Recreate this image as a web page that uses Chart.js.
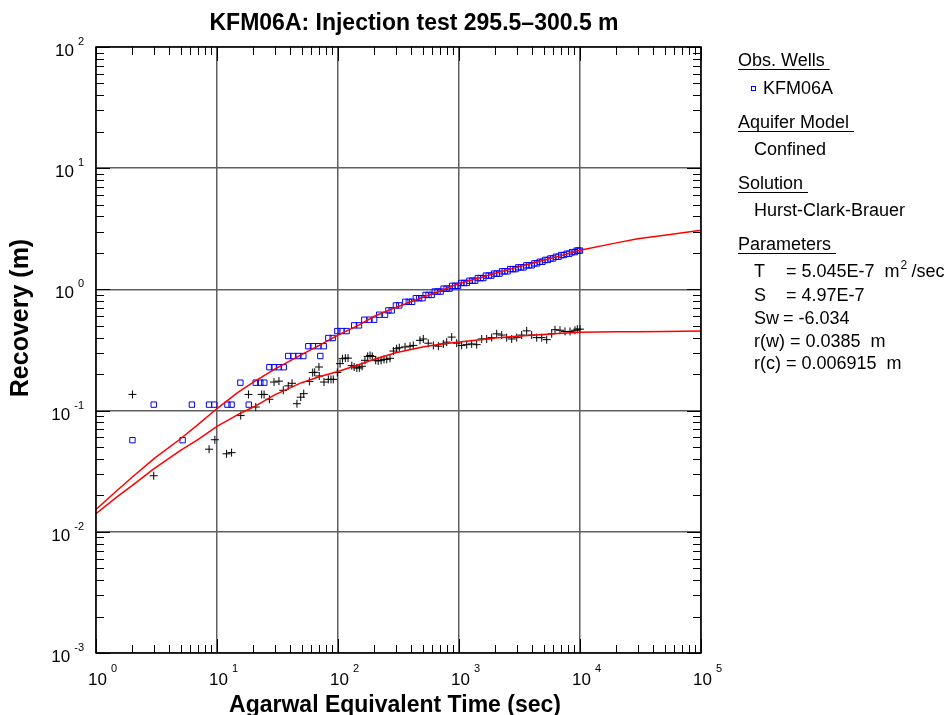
<!DOCTYPE html>
<html>
<head>
<meta charset="utf-8">
<script src="https://cdn.jsdelivr.net/npm/chart.js@4.4.0/dist/chart.umd.min.js"></script>
<style>
  html, body { margin: 0; padding: 0; background: #fff; }
  #wrap { width: 950px; height: 715px; }
</style>
</head>
<body>
<div id="wrap"><canvas id="grapRecovery" width="950" height="715"></canvas></div>
<script>
// axis decades and their exponent labels
var xDecades = [1, 10, 100, 1000, 10000, 100000];
var xExponents = ['0', '1', '2', '3', '4', '5'];
var yDecades = [0.001, 0.01, 0.1, 1, 10, 100];
var yExponents = ['-3', '-2', '-1', '0', '1', '2'];

// observation well KFM06A (blue squares)
var blueTime = [2, 3, 5.2, 6.2, 8.6, 9.5, 12.2, 13.2, 15.6, 18.3, 20.9, 22.8, 24.6,
  27.1, 29.6, 32.5, 35.6, 38.8, 42.7, 47, 51.7, 56.9, 62.1, 68.7, 71.4, 76.2, 83.2, 90.4,
  98.7, 107, 118, 136, 149, 165, 182, 199, 219, 245, 261, 278, 301, 321,
  360, 385, 410, 440, 468, 500, 530, 560, 595, 630, 665, 705, 745, 790, 835,
  880, 930, 980, 1040, 1100, 1160, 1220, 1290, 1360, 1430, 1510, 1590,
  1670, 1760, 1850, 1950, 2050, 2160, 2270, 2390, 2520, 2650, 2790, 2940,
  3090, 3250, 3420, 3600, 3790, 3990, 4200, 4420, 4650, 4890, 5150, 5420,
  5700, 6000, 6320, 6650, 7000, 7370, 7760, 8170, 8600, 9050, 9400, 9700, 10000];
var blueRecovery = [0.057, 0.112, 0.057, 0.112, 0.112, 0.112, 0.112, 0.112, 0.17, 0.112, 0.17, 0.17, 0.17,
  0.228, 0.228, 0.228, 0.228, 0.282, 0.282, 0.282, 0.282, 0.34, 0.34, 0.34, 0.282, 0.34, 0.397, 0.397,
  0.453, 0.453, 0.453, 0.505, 0.505, 0.562, 0.562, 0.562, 0.618, 0.618, 0.671, 0.671, 0.738, 0.738,
  0.79, 0.79, 0.79, 0.846, 0.846, 0.846, 0.90, 0.90, 0.90, 0.96, 0.96, 0.96, 1.015, 1.015, 1.015,
  1.07, 1.07, 1.07, 1.13, 1.13, 1.13, 1.18, 1.18, 1.18, 1.24, 1.24, 1.24,
  1.30, 1.30, 1.30, 1.35, 1.35, 1.35, 1.41, 1.41, 1.41, 1.47, 1.47, 1.47,
  1.52, 1.52, 1.52, 1.58, 1.58, 1.58, 1.64, 1.64, 1.69, 1.69, 1.75, 1.75,
  1.80, 1.80, 1.86, 1.86, 1.92, 1.92, 1.97, 1.97, 2.03, 2.03, 2.09, 2.09, 2.09];

// second recovery record (black crosses)
var blackTime = [2, 3, 8.6, 9.6, 12, 13.2, 15.7, 18.2, 20.9, 23.4, 24.5, 27.1, 29.6, 32.5,
  35.3, 38.8, 41.7, 45.8, 49.2, 52.1, 58, 61.8, 64.2, 69.6, 70, 76.6, 83.2, 87.5, 91.4,
  98.7, 104, 109, 115, 121, 130, 136, 143, 150, 158, 167, 176, 184, 192, 205, 215, 227,
  240, 253, 269, 287, 305, 321, 358, 394, 419, 476, 507, 557, 614, 675, 742, 791, 870,
  957, 1052, 1158, 1273, 1400, 1541, 1694, 1863, 2050, 2254, 2478, 2727, 2999, 3297,
  3627, 3988, 4386, 4826, 5308, 5837, 6213, 6834, 7515, 8265, 9089, 9500, 10000];
var blackRecovery = [0.136, 0.029, 0.048, 0.0575, 0.044, 0.045, 0.091, 0.136, 0.107, 0.136, 0.136, 0.124, 0.172, 0.175,
  0.147, 0.160, 0.168, 0.114, 0.129, 0.138, 0.174, 0.206, 0.207, 0.229, 0.193, 0.172, 0.181, 0.181, 0.181,
  0.206, 0.244, 0.268, 0.271, 0.271, 0.235, 0.229, 0.225, 0.225, 0.232, 0.26, 0.28, 0.285, 0.28, 0.26, 0.257, 0.26,
  0.265, 0.265, 0.27, 0.31, 0.324, 0.33, 0.335, 0.34, 0.345, 0.38, 0.39, 0.36, 0.345, 0.34, 0.355, 0.367, 0.404,
  0.36, 0.345, 0.35, 0.355, 0.35, 0.39, 0.39, 0.40, 0.43, 0.42, 0.40, 0.39, 0.40, 0.42,
  0.455, 0.42, 0.40, 0.40, 0.385, 0.43, 0.465, 0.46, 0.45, 0.45, 0.46, 0.47, 0.47];

// Hurst-Clark-Brauer type curves (red)
var fitTime = [1, 1.5, 2, 3, 5, 7, 10, 15, 20, 30, 50, 70, 100, 150, 200, 300, 500, 700,
  1000, 1500, 2000, 3000, 5000, 7000, 10000, 20000, 30000, 50000, 100000];
var fitUpper = [0.0153, 0.022, 0.0283, 0.040, 0.0586, 0.077, 0.104, 0.142, 0.172, 0.22, 0.29, 0.345,
  0.42, 0.51, 0.60, 0.71, 0.86, 0.97, 1.12, 1.25, 1.36, 1.52, 1.74, 1.90, 2.10, 2.42, 2.62, 2.80, 3.07];
var fitLower = [0.0141, 0.0195, 0.0242, 0.033, 0.047, 0.058, 0.074, 0.093, 0.107, 0.135, 0.17, 0.19,
  0.21, 0.24, 0.265, 0.30, 0.335, 0.352, 0.368, 0.385, 0.397, 0.41, 0.425, 0.435, 0.444, 0.447, 0.448, 0.45, 0.453];

var FONT = '"Liberation Sans", Arial, sans-serif';

function pairs(xs, ys) {
  return xs.map(function (x, i) { return { x: x, y: ys[i] }; });
}
function isDecade(v) {
  var l = Math.log10(v);
  return Math.abs(l - Math.round(l)) < 1e-6;
}
function logTicks(decades) {
  var t = [];
  decades.forEach(function (d, i) {
    if (i === decades.length - 1) { t.push(d); return; }
    for (var k = 1; k < 10; k++) t.push(+(d * k).toPrecision(6));
  });
  return t.map(function (v) { return { value: v }; });
}
function gridColor(c) {
  if (!c.tick) return 'rgba(0,0,0,0)';
  return isDecade(c.tick.value) ? '#5f5f5f' : 'rgba(0,0,0,0)';
}

// frame, inward ticks, labels, titles and the info panel on the right
var decor = {
  id: 'decor',
  afterDraw: function (chart) {
    var c = chart.ctx, a = chart.chartArea;
    var xs = chart.scales.x, ys = chart.scales.y;
    c.save();
    c.strokeStyle = '#000';
    c.lineWidth = 1;
    xs.ticks.forEach(function (t) {
      var px = Math.round(xs.getPixelForValue(t.value)) + 0.5;
      var len = isDecade(t.value) ? 14 : 8;
      c.beginPath();
      c.moveTo(px, a.bottom); c.lineTo(px, a.bottom - len);
      c.moveTo(px, a.top); c.lineTo(px, a.top + len);
      c.stroke();
    });
    ys.ticks.forEach(function (t) {
      var py = Math.round(ys.getPixelForValue(t.value)) + 0.5;
      var len = isDecade(t.value) ? 14 : 8;
      c.beginPath();
      c.moveTo(a.left, py); c.lineTo(a.left + len, py);
      c.moveTo(a.right, py); c.lineTo(a.right - len, py);
      c.stroke();
    });
    c.lineWidth = 1.5;
    c.strokeRect(a.left, a.top, a.right - a.left, a.bottom - a.top);

    // tick labels 10^n
    c.fillStyle = '#000';
    c.textBaseline = 'alphabetic';
    xDecades.forEach(function (d, i) {
      var px = xs.getPixelForValue(d);
      c.font = '17px ' + FONT;
      c.textAlign = 'left';
      c.fillText('10', px - 8, a.bottom + 32);
      var w = c.measureText('10').width;
      c.font = '11px ' + FONT;
      c.fillText(xExponents[i], px - 8 + w + 4, a.bottom + 19);
    });
    yDecades.forEach(function (d, i) {
      var py = ys.getPixelForValue(d);
      c.font = '11px ' + FONT;
      c.textAlign = 'right';
      var ew = c.measureText(yExponents[i]).width;
      c.fillText(yExponents[i], 84, py - 2);
      c.font = '17px ' + FONT;
      c.fillText('10', 84 - ew - 4, py + 9);
    });

    // titles
    c.textAlign = 'center';
    c.font = 'bold 23px ' + FONT;
    c.fillText('KFM06A: Injection test 295.5\u2013300.5 m', 414, 30);
    c.fillText('Agarwal Equivalent Time (sec)', 395, 712);
    c.save();
    c.translate(21, 318);
    c.rotate(-Math.PI / 2);
    c.textBaseline = 'middle';
    c.font = 'bold 25px ' + FONT;
    c.fillText('Recovery (m)', 0, 0);
    c.restore();

    // info panel
    c.textAlign = 'left';
    c.font = '18px ' + FONT;
    function heading(text, x, y) {
      c.fillText(text, x, y);
      var w = c.measureText(text + ' ').width;
      c.beginPath();
      c.lineWidth = 1;
      c.moveTo(x, y + 3.5); c.lineTo(x + w, y + 3.5);
      c.stroke();
    }
    heading('Obs. Wells', 738, 66);
    c.strokeStyle = '#0000ff';
    c.strokeRect(751.5, 86.5, 4, 4);
    c.strokeStyle = '#000';
    c.fillText('KFM06A', 763, 94);
    heading('Aquifer Model', 738, 128);
    c.fillText('Confined', 754, 155);
    heading('Solution', 738, 189);
    c.fillText('Hurst-Clark-Brauer', 754, 216);
    heading('Parameters', 738, 250);
    c.fillText('T', 754, 277);
    c.fillText('= 5.045E-7  m', 786, 277);
    var mw = c.measureText('= 5.045E-7  m').width;
    c.font = '12px ' + FONT;
    c.fillText('2', 786 + mw + 1, 269);
    c.font = '18px ' + FONT;
    c.fillText('/sec', 786 + mw + 12, 277);
    c.fillText('S', 754, 301);
    c.fillText('= 4.97E-7', 786, 301);
    c.fillText('Sw', 754, 324);
    c.fillText('= -6.034', 783, 324);
    c.fillText('r(w) = 0.0385  m', 754, 347);
    c.fillText('r(c) = 0.006915  m', 754, 369);
    c.restore();
  }
};

var ctx = document.getElementById('grapRecovery');
new Chart(ctx, {
  type: 'scatter',
  data: {
    datasets: [{
      label: 'fit upper',
      data: pairs(fitTime, fitUpper),
      showLine: true,
      borderColor: '#ff0000',
      borderWidth: 1.5,
      pointRadius: 0,
      fill: false
    }, {
      label: 'fit lower',
      data: pairs(fitTime, fitLower),
      showLine: true,
      borderColor: '#ff0000',
      borderWidth: 1.5,
      pointRadius: 0,
      fill: false
    }, {
      label: 'KFM06A',
      data: pairs(blueTime, blueRecovery),
      pointStyle: 'rect',
      pointRadius: 3.8,
      pointBorderWidth: 1,
      borderColor: '#0000ff',
      backgroundColor: 'rgba(0,0,0,0)'
    }, {
      label: 'recovery 2',
      data: pairs(blackTime, blackRecovery),
      pointStyle: 'cross',
      pointRadius: 4,
      pointBorderWidth: 1,
      borderColor: '#000000',
      backgroundColor: '#000000'
    }]
  },
  options: {
    responsive: false,
    devicePixelRatio: 1,
    animation: false,
    events: [],
    layout: { padding: { left: 96, right: 249, top: 47, bottom: 62 } },
    plugins: { legend: { display: false }, title: { display: false }, tooltip: { enabled: false } },
    scales: {
      x: {
        type: 'logarithmic', min: 1, max: 100000,
        afterBuildTicks: function (s) { s.ticks = logTicks(xDecades); },
        ticks: { display: false },
        grid: { color: gridColor, lineWidth: 1.5, drawTicks: false },
        border: { display: false }
      },
      y: {
        type: 'logarithmic', min: 0.001, max: 100,
        afterBuildTicks: function (s) { s.ticks = logTicks(yDecades); },
        ticks: { display: false },
        grid: { color: gridColor, lineWidth: 1.5, drawTicks: false },
        border: { display: false }
      }
    }
  },
  plugins: [decor]
});
</script>
</body>
</html>
